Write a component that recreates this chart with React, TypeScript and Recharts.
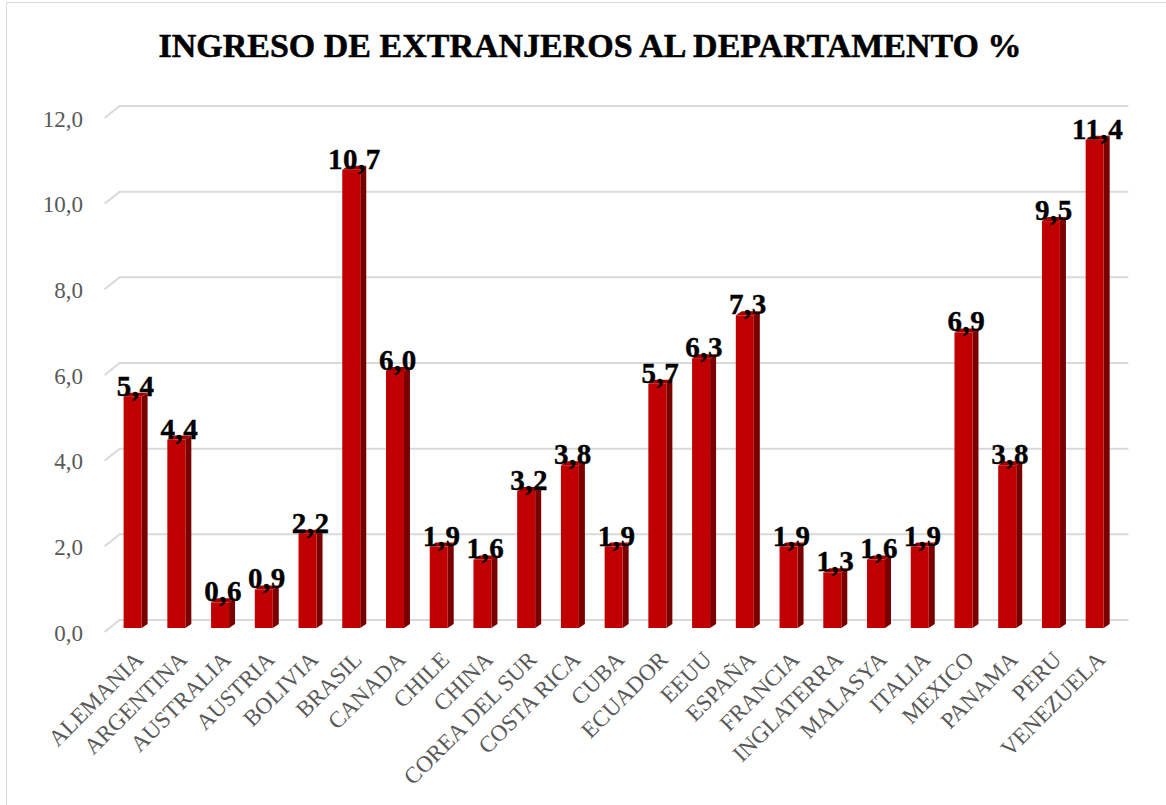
import React from "react";
import { BarChart, Bar, XAxis, YAxis, CartesianGrid, LabelList } from "recharts";

const countries = [
  "ALEMANIA", "ARGENTINA", "AUSTRALIA", "AUSTRIA", "BOLIVIA", "BRASIL", "CANADA",
  "CHILE", "CHINA", "COREA DEL SUR", "COSTA RICA", "CUBA", "ECUADOR", "EEUU",
  "ESPAÑA", "FRANCIA", "INGLATERRA", "MALASYA", "ITALIA", "MEXICO", "PANAMA",
  "PERU", "VENEZUELA",
];
const percentages = [
  5.4, 4.4, 0.6, 0.9, 2.2, 10.7, 6.0,
  1.9, 1.6, 3.2, 3.8, 1.9, 5.7, 6.3,
  7.3, 1.9, 1.3, 1.6, 1.9, 6.9, 3.8,
  9.5, 11.4,
];
const yTicks = [0, 2, 4, 6, 8, 10, 12];
const title = "INGRESO DE EXTRANJEROS AL DEPARTAMENTO %";

const data = countries.map((c, i) => ({ name: c, value: percentages[i] }));

const fmt = (v: number) => v.toFixed(1).replace(".", ",");

const SERIF = "'Liberation Serif', 'Times New Roman', serif";
const FRONT = "#C00000";
const SIDE = "#7A0000";
const TOP = "#A00000";
const DX = 6;
const DY = 4;

const Bar3D = (props: any) => {
  const { x, y, width, height } = props;
  if (height == null || height <= 0) return null;
  const x2 = x + width;
  const yb = y + height;
  return (
    <g>
      <path d={`M${x2},${y} L${x2 + DX},${y - DY} L${x2 + DX},${yb - DY} L${x2},${yb} Z`} fill={SIDE} />
      <path d={`M${x},${y} L${x + DX},${y - DY} L${x2 + DX},${y - DY} L${x2},${y} Z`} fill={TOP} />
      <rect x={x} y={y} width={width} height={height} fill={FRONT} />
    </g>
  );
};

const gridLine = (props: any) => {
  const { x1, y1, x2, index } = props;
  const d = `M${x1 - 6},${y1 + 4} L${x1 + 9},${y1 - 8} L${x2 + 12},${y1 - 8}`;
  return <path key={`grid-${index}`} d={d} stroke="#D9D9D9" strokeWidth={2} fill="none" />;
};

const YTick = (props: any) => {
  const { y, payload } = props;
  return (
    <text x={83} y={y + 5} textAnchor="end" dominantBaseline="central" fill="#595959"
      fontFamily={SERIF} fontSize={23}>
      {fmt(payload.value)}
    </text>
  );
};

const XTick = (props: any) => {
  const { x, payload } = props;
  const ax = x + 12;
  const ay = 661;
  return (
    <text x={ax} y={ay} textAnchor="end" fill="#595959" fontFamily={SERIF} fontSize={23}
      transform={`rotate(-45 ${ax} ${ay})`}>
      {payload.value}
    </text>
  );
};

const DataLabel = (props: any) => {
  const { x, y, width, value } = props;
  return (
    <text x={x + width / 2 + 3} y={y - 1} textAnchor="middle" fill="#000000"
      fontFamily={SERIF} fontWeight="bold" fontSize={29} letterSpacing={0.5}
      stroke="#000" strokeWidth={0.4}>
      {fmt(value)}
    </text>
  );
};

export default function App() {
  return (
    <div style={{ position: "absolute", left: 0, top: 0, width: 1166, height: 805, background: "#fff", overflow: "hidden" }}>
      <div style={{ position: "absolute", left: 6, top: 2, width: 1180, height: 820, border: "1px solid #D9D9D9", boxSizing: "border-box" }} />
      <svg width={1166} height={80} style={{ position: "absolute", left: 0, top: 0 }}>
        <text x={590} y={57} textAnchor="middle" fontFamily={SERIF} fontWeight="bold" fontSize={34}
          fill="#000" stroke="#000" strokeWidth={0.5}>
          {title}
        </text>
      </svg>
      <div style={{ position: "absolute", left: 0, top: 0 }}>
        <BarChart width={1166} height={805} data={data}
          margin={{ top: 114, right: 49.6, bottom: 0, left: 0 }} barCategoryGap={0}>
          <CartesianGrid vertical={false} horizontal={gridLine} />
          <YAxis width={110.6} domain={[0, 12]} ticks={yTicks} axisLine={false} tickLine={false}
            tick={<YTick />} interval={0} />
          <XAxis dataKey="name" height={177} axisLine={false} tickLine={false} interval={0} tick={<XTick />} />
          <Bar dataKey="value" barSize={18} shape={<Bar3D />} isAnimationActive={false}>
            <LabelList dataKey="value" content={<DataLabel />} />
          </Bar>
        </BarChart>
      </div>
    </div>
  );
}
